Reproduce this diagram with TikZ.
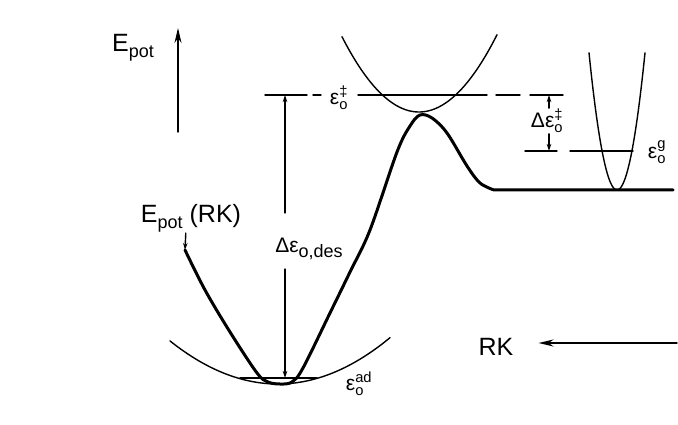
\documentclass[tikz,border=0pt]{standalone}
\usepackage{amsmath}
\usepackage{fontspec}
\setmainfont{Liberation Sans}
\usetikzlibrary{arrows.meta}

\newcommand\lo[1]{\raisebox{-0.45ex}{\fontsize{18}{18}\selectfont #1}}
\newcommand\eps[2]{$\text{ε}^{\text{#1}}_{\text{#2}}$}

\begin{document}
\begin{tikzpicture}[x=1pt, y=-1pt, line cap=round,
  thinline/.style={line width=1.4pt},
  thickline/.style={line width=3pt},
  arr/.style={thinline, -{Stealth[length=7pt,width=4.5pt]}},
  bigarr/.style={thinline, -{Stealth[length=15pt,width=7pt]}},
  lbl/.style={inner sep=1pt, font=\fontsize{21}{24}\selectfont},
  biglbl/.style={inner sep=1pt, font=\fontsize{25}{28}\selectfont}]
  \useasboundingbox (0,0) rectangle (678,425);

  % energy axis
  \coordinate (axbot) at (178,132);
  \coordinate (axtop) at (178,28);
  \draw[bigarr] (axbot) -- (axtop);
  \node[biglbl] (epot) at (133,48) {E\lo{pot}};

  % levels
  \coordinate (ts) at (285,95);
  \coordinate (ad) at (285,378);
  \coordinate (gtop) at (549,95);
  \coordinate (gbot) at (549,151);
  \foreach \a/\b in {265/307, 313/321, 358/487, 496/520, 530/563}
    \draw[thinline] (\a,95) -- (\b,95);
  \node[lbl] (tslbl) at (339,98) {\eps{‡}{o}};
  \draw[thinline] (240,378) -- (317,378);
  \node[lbl] (adlbl) at (359,384) {\eps{ad}{o}};
  \draw[thinline] (525,151) -- (557,151);
  \draw[thinline] (570,151) -- (633,151);
  \node[lbl] (glbl) at (657,152) {\eps{g}{o}};

  % parabolas
  \draw[thinline, domain=170:390, samples=80] plot (\x, {384-0.0037*(\x-278)^2});
  \draw[thinline, domain=342:497, samples=80] plot (\x, {112-0.0127*(\x-419)^2});
  \draw[thinline, domain=589:645, samples=60] plot (\x, {190-0.175*(\x-617)^2});

  % potential curve along the reaction coordinate
  \coordinate (crvst) at (185,250);
  \draw[thickline, line join=round] plot[smooth, tension=0.55] coordinates {
    (crvst) (205,290) (230,332) (257,373) (268,382) (280,384) (292,382)
    (303,368) (330,313) (350,272) (370,230) (397,152) (410,126) (420,115)
    (432,118) (447,133) (467,166) (480,183) (494,190)} -- (673,190);
  \node[biglbl] (rklbl) at (191,218) {E\lo{pot} (RK)};
  \draw[arr] ([xshift=46pt]rklbl.south west) -- (crvst);

  % desorption energy
  \node[lbl] (deslbl) at (309,249) {Δε\lo{o,des}};
  \draw[arr, shorten <=24pt] (deslbl.north -| ts) -- (ts);
  \draw[arr, shorten <=8pt] (deslbl.south -| ad) -- (ad);

  % activation difference
  \node[lbl] (dtlbl) at (547,121) {Δ\eps{‡}{o}};
  \draw[arr] (dtlbl.north -| gtop) -- (gtop);
  \draw[arr] (dtlbl.south -| gbot) -- (gbot);

  % reaction coordinate
  \node[biglbl] (rk) at (496,347) {RK};
  \coordinate (rkend) at (677,343);
  \draw[bigarr, shorten >=24pt] (rkend) -- (rkend -| rk.east);
\end{tikzpicture}
\end{document}
